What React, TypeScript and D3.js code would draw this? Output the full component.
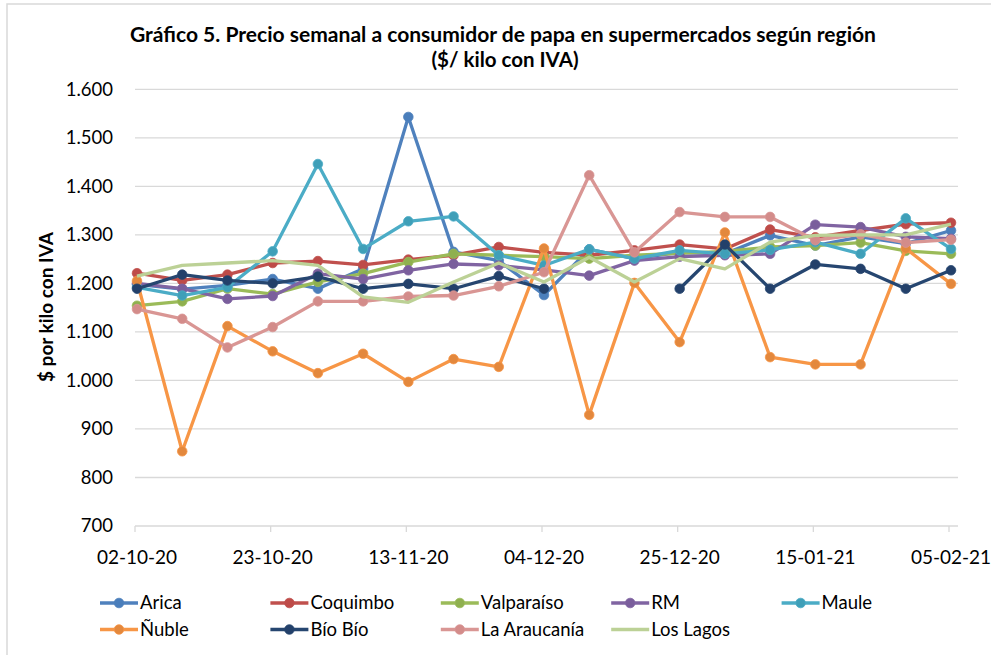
// @ts-nocheck
import React from "react";
import * as d3 from "d3";

const dates = [
  "02-10-20", "09-10-20", "16-10-20", "23-10-20", "30-10-20", "06-11-20", "13-11-20",
  "20-11-20", "27-11-20", "04-12-20", "11-12-20", "18-12-20", "25-12-20", "01-01-21",
  "08-01-21", "15-01-21", "22-01-21", "29-01-21", "05-02-21",
];

const arica = [1198, 1188, 1196, 1209, 1189, 1230, 1543, 1265, 1247, 1176, 1270, 1251, 1264, 1261, 1299, 1278, 1296, 1282, 1309];
const coquimbo = [1221, 1206, 1218, 1242, 1246, 1238, 1249, 1258, 1275, 1264, 1258, 1268, 1280, 1271, 1311, 1295, 1309, 1322, 1325];
const valparaiso = [1154, 1163, 1189, 1178, 1203, 1220, 1244, 1261, 1258, 1255, 1251, 1258, 1262, 1266, 1275, 1278, 1284, 1267, 1261];
const rm = [1200, 1189, 1168, 1174, 1220, 1209, 1227, 1240, 1237, 1228, 1216, 1247, 1255, 1258, 1261, 1321, 1316, 1296, 1292];
const maule = [1192, 1175, 1192, 1266, 1446, 1271, 1328, 1338, 1258, 1237, 1270, 1251, 1268, 1261, 1269, 1285, 1261, 1334, 1271];
const nuble = [1205, 854, 1112, 1060, 1015, 1055, 997, 1044, 1028, 1272, 929, 1201, 1079, 1305, 1048, 1033, 1033, 1272, 1199];
const bioBio = [1189, 1218, 1206, 1200, 1214, 1189, 1199, 1189, 1215, 1189, null, null, 1189, 1280, 1189, 1239, 1230, 1189, 1227];
const araucania = [1147, 1127, 1068, 1110, 1163, 1163, 1173, 1175, 1194, 1223, 1423, 1264, 1347, 1337, 1337, 1289, 1301, 1284, 1290];
const losLagos = [1215, 1237, 1242, 1247, 1237, 1172, 1161, 1203, 1242, 1203, 1254, 1203, 1251, 1230, 1285, 1299, 1300, 1300, 1322];

const yTicks = [700, 800, 900, 1000, 1100, 1200, 1300, 1400, 1500, 1600];
const xTickIdx = [0, 3, 6, 9, 12, 15, 18];

const series = [
  { name: "Arica", values: arica, color: "#4f81bd", mark: "#4a7ebb", markers: true },
  { name: "Coquimbo", values: coquimbo, color: "#c0504d", mark: "#be4b48", markers: true },
  { name: "Valparaíso", values: valparaiso, color: "#9bbb59", mark: "#8fb04f", markers: true },
  { name: "RM", values: rm, color: "#8064a2", mark: "#7a5e9c", markers: true },
  { name: "Maule", values: maule, color: "#4bacc6", mark: "#3f9fb8", markers: true },
  { name: "Ñuble", values: nuble, color: "#f79646", mark: "#e3883d", markers: true },
  { name: "Bío Bío", values: bioBio, color: "#264670", mark: "#23406a", markers: true },
  { name: "La Araucanía", values: araucania, color: "#d99694", mark: "#d38c8a", markers: true },
  { name: "Los Lagos", values: losLagos, color: "#bcd196", mark: "#bcd196", markers: false },
];

const W = 991;
const H = 655;
const font = "Lato, 'Open Sans', sans-serif";

export default function App() {
  const x = d3.scaleLinear().domain([0, 18]).range([137, 951]);
  const y = d3.scaleLinear().domain([700, 1600]).range([526, 89.3]);
  const plotLeft = 135;
  const plotRight = 958;

  const line = d3
    .line()
    .defined((d) => d != null)
    .x((d, i) => x(i))
    .y((d) => y(d));

  return (
    <div style={{ position: "fixed", left: 0, top: 0 }}>
      <svg width={W} height={H} style={{ display: "block", background: "#fff" }} fontFamily={font}>
        <rect x={7} y={4} width={1100} height={800} fill="#fff" stroke="#d9d9d9" strokeWidth={1.5} />

        <text x={503} y={42} textAnchor="middle" fontSize={20.5} fontWeight="bold" fill="#000"
          textLength={746} lengthAdjust="spacingAndGlyphs">
          Gráfico 5. Precio semanal a consumidor de papa en supermercados según región
        </text>
        <text x={505} y={67} textAnchor="middle" fontSize={20.5} fontWeight="bold" fill="#000">
          ($/ kilo con IVA)
        </text>

        {yTicks.map((t) => (
          <g key={t}>
            <line x1={plotLeft} x2={plotRight} y1={y(t)} y2={y(t)} stroke="#d9d9d9" strokeWidth={1.3} />
            <text x={113} y={y(t)} dy="0.35em" textAnchor="end" fontSize={18.5} fill="#000">
              {d3.format(",")(t).replace(/,/g, ".")}
            </text>
          </g>
        ))}

        {xTickIdx.map((i) => (
          <g key={i}>
            <line x1={x(i) - 2} x2={x(i) - 2} y1={y(700)} y2={y(700) + 6} stroke="#d9d9d9" strokeWidth={1.3} />
            <text x={x(i)} y={557} dy="0.35em" textAnchor="middle" fontSize={19} fill="#000">
              {dates[i]}
            </text>
          </g>
        ))}

        <text
          transform={`translate(46,307) rotate(-90)`}
          textAnchor="middle"
          dy="0.35em"
          fontSize={19}
          fontWeight="bold"
          fill="#000"
        >
          $ por kilo con IVA
        </text>

        {series.map((s) => (
          <g key={s.name}>
            <path d={line(s.values)} fill="none" stroke={s.color} strokeWidth={3.3} strokeLinejoin="round" />
            {s.markers &&
              s.values.map((v, i) =>
                v == null ? null : <circle key={i} cx={x(i)} cy={y(v)} r={4.8} fill={s.mark} stroke={s.color} strokeWidth={0.8} />
              )}
          </g>
        ))}

        {series.map((s, k) => {
          const col = k % 5;
          const row = Math.floor(k / 5);
          const lx = 100 + col * 170.4;
          const ly = 603 + row * 26.5;
          return (
            <g key={s.name}>
              <line x1={lx} x2={lx + 38} y1={ly} y2={ly} stroke={s.color} strokeWidth={3.3} />
              {s.markers && <circle cx={lx + 19} cy={ly} r={4.8} fill={s.mark} stroke={s.color} strokeWidth={0.8} />}
              <text x={lx + 40} y={ly} dy="0.35em" fontSize={18.5} fill="#000">
                {s.name}
              </text>
            </g>
          );
        })}
      </svg>
    </div>
  );
}
